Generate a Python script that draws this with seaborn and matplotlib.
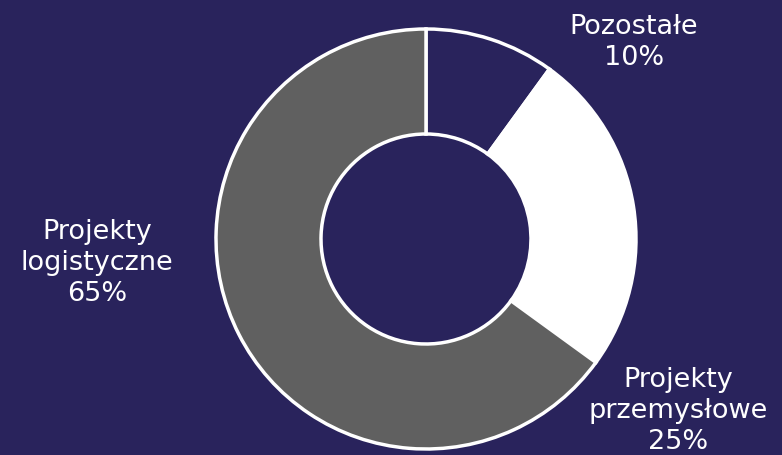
import matplotlib
matplotlib.use("Agg")
import matplotlib.pyplot as plt
import seaborn as sns

# shares of the portfolio (clockwise from 12 o'clock)
labels = ["Pozostałe", "Projekty\nprzemysłowe", "Projekty\nlogistyczne"]
shares = [10, 25, 65]
colors = ["#29235c", "#ffffff", "#606060"]

bg = "#29235c"
sns.set_style("white")
plt.rcParams['font.family'] = ['DejaVu Sans']

fig = plt.figure(figsize=(7.82, 4.56), dpi=100, facecolor=bg)
ax = fig.add_axes([0, 0, 1, 1])
ax.set_facecolor(bg)

ax.pie(shares, colors=colors, startangle=90, counterclock=False,
       radius=210, center=(426, 216),
       wedgeprops=dict(width=105, edgecolor="white", linewidth=2.5))

# label positions (pixels, y up)
label_pos = [(634, 414), (678, 45), (97, 193)]
for lab, val, (x, y) in zip(labels, shares, label_pos):
    ax.text(x, y, f"{lab}\n{val}%", ha="center", va="center",
            color="white", fontsize=19.5, linespacing=1.25)

ax.set_xlim(0, 782)
ax.set_ylim(0, 456)
ax.set_aspect("equal")
ax.axis("off")

plt.savefig("out.png", dpi=100, facecolor=bg)
